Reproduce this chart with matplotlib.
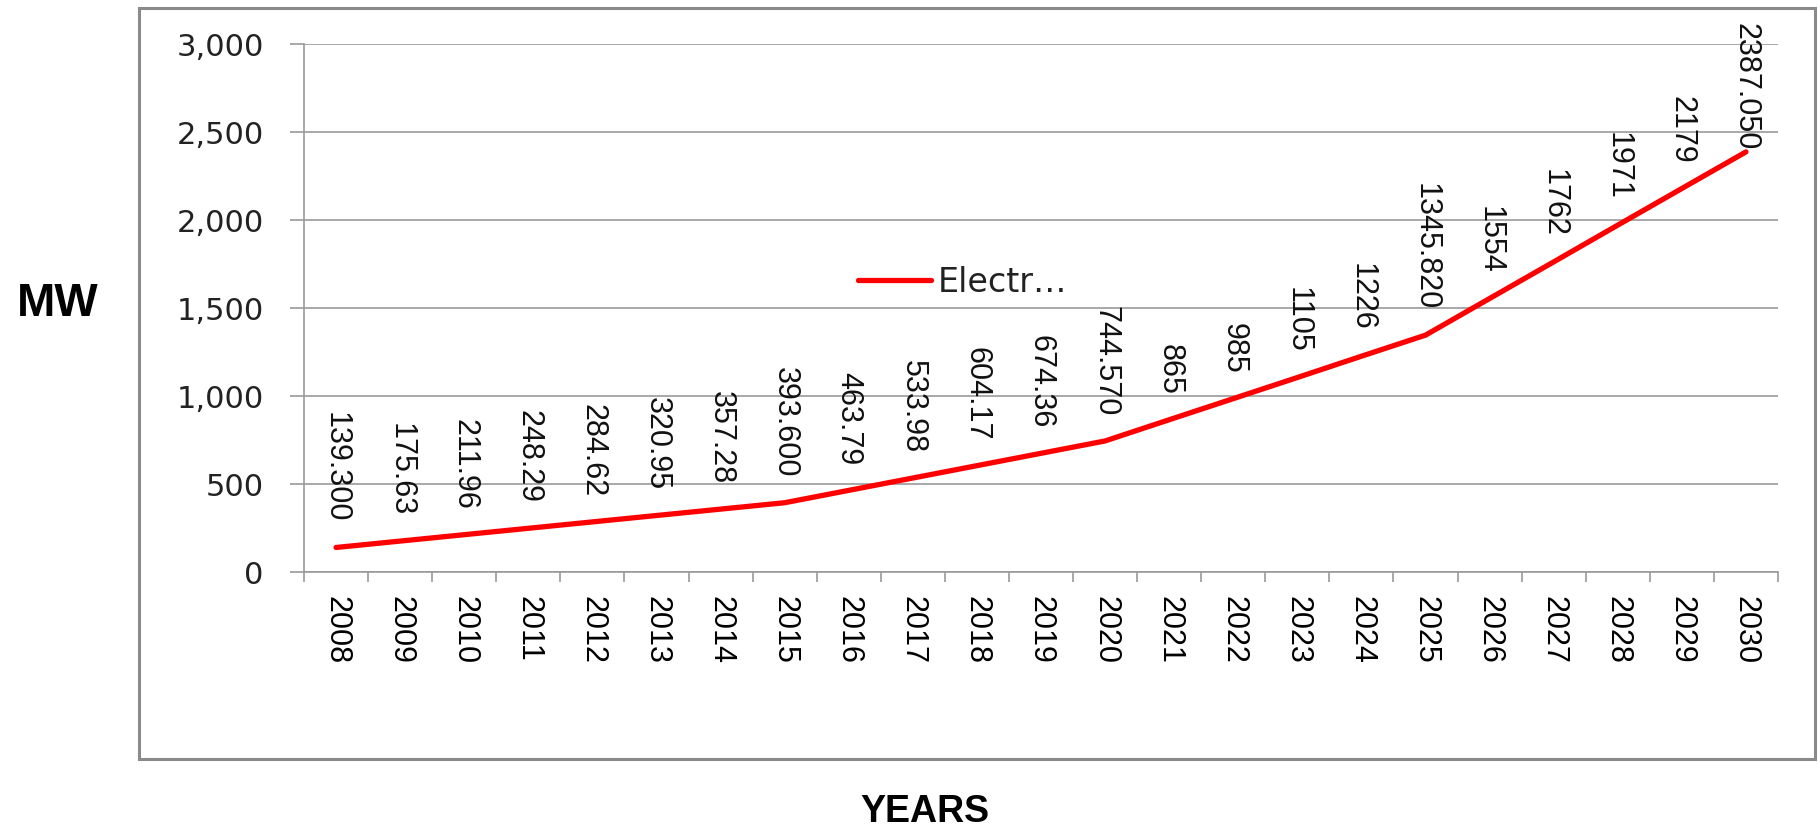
import matplotlib.pyplot as plt
from matplotlib.patches import Rectangle
from matplotlib.ticker import FuncFormatter, FixedLocator

years = [str(y) for y in range(2008, 2031)]
mw = [139.300, 175.63, 211.96, 248.29, 284.62, 320.95, 357.28, 393.600,
      463.79, 533.98, 604.17, 674.36, 744.570, 865, 985, 1105, 1226,
      1345.820, 1554, 1762, 1971, 2179, 2387.050]
point_labels = ["139.300", "175.63", "211.96", "248.29", "284.62", "320.95",
                "357.28", "393.600", "463.79", "533.98", "604.17", "674.36",
                "744.570", "865", "985", "1105", "1226", "1345.820", "1554",
                "1762", "1971", "2179", "2387.050"]
series_name = "Electr\u2026"

W, H = 1818, 830
fig = plt.figure(figsize=(W / 100, H / 100), dpi=100)
ax = fig.add_axes([304 / W, 1 - 572 / H, 1474 / W, (572 - 44) / H])

grey = "#9a9a9a"
x = list(range(len(years)))
ax.plot(x, mw, color="#ff0000", lw=3.8, solid_capstyle="round", label=series_name)

ax.set_xlim(-0.5, len(years) - 0.5)
ax.set_ylim(0, 3000)
ax.set_yticks(range(0, 3001, 500))
ax.yaxis.set_major_formatter(FuncFormatter(lambda v, p: f"{int(v):,}"))
ax.grid(axis="y", color=grey, lw=1.2)
ax.set_axisbelow(True)

# category labels at centres, tick marks between categories
ax.set_xticks(x)
ax.set_xticklabels(years, rotation=-90, fontsize=22, family="Liberation Sans")
ax.xaxis.set_minor_locator(FixedLocator([i - 0.5 for i in range(len(years) + 1)]))
ax.tick_params(axis="x", which="major", length=0, pad=17)
ax.tick_params(axis="x", which="minor", length=7, width=1.2, color=grey)
ax.tick_params(axis="y", length=10, width=1.2, color=grey, pad=19,
               labelsize=22)
for t in ax.get_yticklabels():
    t.set_family("DejaVu Sans")
    t.set_color("#222222")

for s in ["top", "right"]:
    ax.spines[s].set_visible(False)
for s in ["left", "bottom"]:
    ax.spines[s].set_color(grey)
    ax.spines[s].set_linewidth(1.2)

# data labels above points, read top to bottom
for i, (v, lab) in enumerate(zip(mw, point_labels)):
    off = 25 if i < len(mw) - 1 else 2
    ax.annotate(lab, (i, v), xytext=(0, off), textcoords="offset pixels",
                rotation=-90, ha="center", va="bottom", fontsize=22,
                family="Liberation Sans", color="#111111")

ax.legend(loc="center left", bbox_to_anchor=(858 / W, 1 - 282 / H),
          bbox_transform=fig.transFigure, frameon=False, fontsize=24,
          handlelength=2.2, handletextpad=0.2, borderpad=0, borderaxespad=0)
for t in ax.get_legend().get_texts():
    t.set_color("#222222")

fig.add_artist(Rectangle((139 / W, 1 - 759 / H), (1815 - 139) / W, (759 - 8) / H,
                         transform=fig.transFigure, fill=False,
                         edgecolor="#8a8a8a", lw=2.2))

fig.text(58 / W, 1 - 304 / H, "MW", ha="center", va="center",
         fontsize=33, fontweight="bold", family="Liberation Sans")
fig.text(925 / W, 1 - 812 / H, "YEARS", ha="center", va="center",
         fontsize=27, fontweight="bold",
         family=["Liberation Sans Narrow", "Liberation Sans"])

fig.savefig("out.png", dpi=100)
